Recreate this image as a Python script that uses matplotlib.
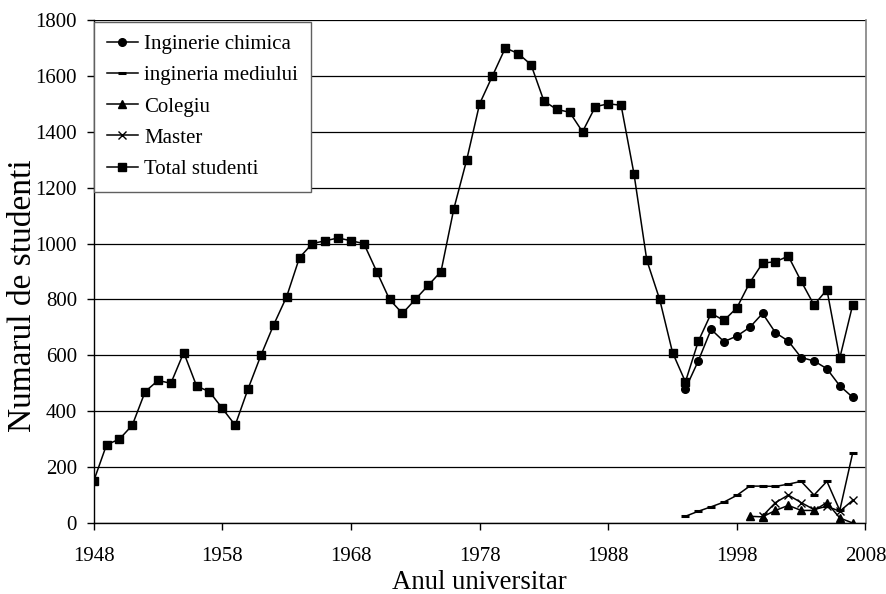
import matplotlib
matplotlib.use("Agg")
import matplotlib.pyplot as plt
import numpy as np

years_total = list(range(1948, 2008))
total_studenti = [150, 280, 300, 350, 470, 510, 500, 610, 490, 470,
                  410, 350, 480, 600, 710, 810, 950, 1000, 1010, 1020,
                  1010, 1000, 900, 800, 750, 800, 850, 900, 1125, 1300,
                  1500, 1600, 1700, 1680, 1640, 1510, 1480, 1470, 1400, 1490,
                  1500, 1495, 1250, 940, 800, 610, 505, 650, 750, 725,
                  770, 860, 930, 935, 955, 865, 780, 835, 590, 780]

years_chimica = list(range(1994, 2008))
inginerie_chimica = [480, 580, 693, 649, 669, 700, 750, 681, 651, 592, 580, 552, 491, 450]

years_mediului = list(range(1994, 2008))
ingineria_mediului = [24, 42, 58, 75, 99, 132, 132, 131, 139, 149, 100, 149, 45, 250]

years_colegiu = list(range(1999, 2008))
colegiu = [24, 22, 45, 63, 45, 45, 73, 18, 0]

years_master = list(range(2000, 2008))
master = [25, 73, 100, 73, 48, 60, 42, 81]

xticks = [1948, 1958, 1968, 1978, 1988, 1998, 2008]
yticks = list(range(0, 1801, 200))

plt.rcParams['font.family'] = ['Liberation Serif', 'DejaVu Serif']

W, H = 886, 594
fig = plt.figure(figsize=(W / 100, H / 100), dpi=100)
left, right, bottom, top = 93.7, 865.5, 523, 20
ax = fig.add_axes([left / W, 1 - bottom / H, (right - left) / W, (bottom - top) / H])

lw = 1.1
ax.plot(years_chimica, inginerie_chimica, color='black', lw=lw, marker='o',
        markersize=5.5, label='Inginerie chimica', zorder=3)
ax.plot(years_mediului, ingineria_mediului, color='black', lw=lw, marker='_',
        markersize=6, markeredgewidth=2.2, label='ingineria mediului', zorder=3)
ax.plot(years_colegiu, colegiu, color='black', lw=lw, marker='^',
        markersize=6, label='Colegiu', zorder=3)
ax.plot(years_master, master, color='black', lw=lw, marker='x',
        markersize=6, markeredgewidth=1.0, label='Master', zorder=3)
ax.plot(years_total, total_studenti, color='black', lw=lw, marker='s',
        markersize=5.5, label='Total studenti', zorder=4)

ax.set_xlim(1948, 2008)
ax.set_ylim(0, 1800)
ax.set_xticks(xticks)
ax.set_yticks(yticks)
ax.tick_params(axis='both', labelsize=15, direction='out', length=5, width=1, color='black')
ax.tick_params(axis='x', pad=12)
ax.tick_params(axis='y', pad=7)
ax.yaxis.grid(True, color='black', lw=0.9)
ax.set_axisbelow(True)

for s in ['left', 'bottom']:
    ax.spines[s].set_color('black')
    ax.spines[s].set_linewidth(1.0)
ax.spines['right'].set_color('#808080')
ax.spines['top'].set_visible(False)
ax.spines['right'].set_linewidth(1.2)

fig.text(479 / W, 1 - 589 / H, 'Anul universitar', fontsize=19.3,
         ha='center', va='baseline')
fig.text(23 / W, 1 - 296 / H, 'Numarul de studenti', fontsize=24,
         rotation=90, ha='center', va='center')

leg = ax.legend(loc='upper left', bbox_to_anchor=(0.0, 0.997), fontsize=15,
                frameon=True, fancybox=False, borderaxespad=0, handlelength=1.5,
                handletextpad=0.3, labelspacing=0.56, borderpad=0.62)
leg.get_frame().set_edgecolor('#606060')
leg.get_frame().set_linewidth(1.0)
leg.get_frame().set_alpha(1)

fig.savefig('out.png', dpi=100)
